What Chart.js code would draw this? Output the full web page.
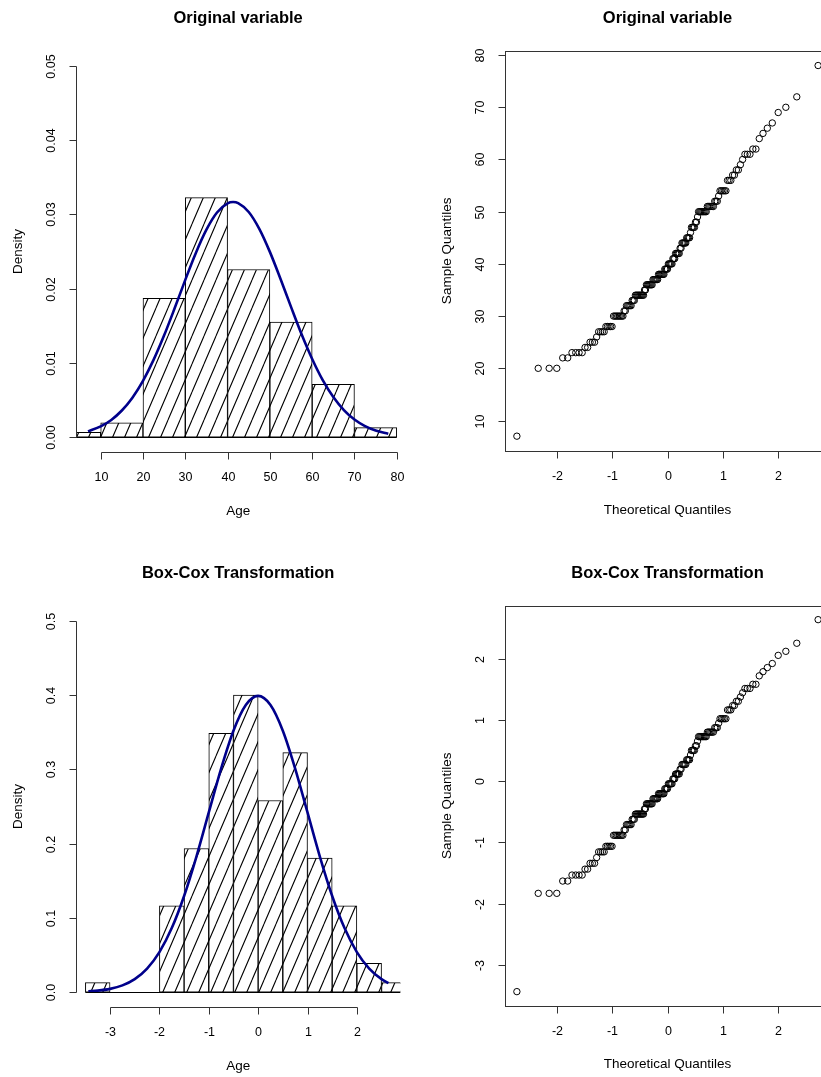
<!DOCTYPE html>
<html>
<head>
<meta charset="utf-8">
<script src="https://cdn.jsdelivr.net/npm/chart.js@4.4.1/dist/chart.umd.min.js"></script>
<style>
  html, body { margin: 0; padding: 0; width: 821px; height: 1077px; overflow: hidden; background: #fff; }
  canvas { position: absolute; left: 0; top: 0; }
</style>
</head>
<body>
<canvas id="histAge" width="860" height="1077"></canvas>
<canvas id="qqAge" width="860" height="1077"></canvas>
<canvas id="histBoxCox" width="860" height="1077"></canvas>
<canvas id="qqBoxCox" width="860" height="1077"></canvas>
<script>
// ---- data ----
// histogram of Age (bins of 10, density)
const ageBinMids = [5, 15, 25, 35, 45, 55, 65, 75];
const ageDensity = [0.00065, 0.00194, 0.01871, 0.03226, 0.02258, 0.01548, 0.0071, 0.00129];
const ageBreaksRange = [0, 80];
// fitted normal curve over Age
const ageCurveX = [7, 10, 12.5, 15, 17.5, 20, 22.5, 25, 27.5, 30, 32.5, 35, 37.5, 40, 41.3, 42.5, 45, 47.5, 50, 52.5, 55, 57.5, 60, 62.5, 65, 67.5, 70, 72.5, 75, 78];
const ageCurveY = [0.00078, 0.00145, 0.00232, 0.00359, 0.00532, 0.00759, 0.0104, 0.01371, 0.01738, 0.02118, 0.02481, 0.02794, 0.03025, 0.03149, 0.03166, 0.03152, 0.03032, 0.02805, 0.02495, 0.02133, 0.01754, 0.01385, 0.01053, 0.00768, 0.0054, 0.00365, 0.00237, 0.00148, 0.00089, 0.00046];

// histogram of the Box-Cox transformed variable (bins of 0.5)
const bcBinMids = [-3.25, -2.75, -2.25, -1.75, -1.25, -0.75, -0.25, 0.25, 0.75, 1.25, 1.75, 2.25, 2.75];
const bcDensity = [0.0129, 0, 0, 0.1161, 0.1935, 0.3484, 0.4, 0.2581, 0.3226, 0.1806, 0.1161, 0.0387, 0.0129];
const bcBreaksRange = [-3.5, 3.0];
const bcCurveX = [-3.44, -3.25, -3, -2.75, -2.5, -2.25, -2, -1.75, -1.5, -1.25, -1, -0.75, -0.5, -0.25, 0, 0.25, 0.5, 0.75, 1, 1.25, 1.5, 1.75, 2, 2.25, 2.5, 2.64];
const bcCurveY = [0.00107, 0.00203, 0.00443, 0.00909, 0.01753, 0.03174, 0.05399, 0.08628, 0.12952, 0.18265, 0.24197, 0.30114, 0.35207, 0.38667, 0.39894, 0.38667, 0.35207, 0.30114, 0.24197, 0.18265, 0.12952, 0.08628, 0.05399, 0.03174, 0.01753, 0.01223];

// sample: distinct ages, how often each occurs, and its Box-Cox value
const ageValues = [7, 20, 22, 23, 24, 25, 26, 27, 28, 30, 31, 32, 33, 34, 35, 36, 37, 38, 39, 40, 41, 42, 43, 44, 45, 46, 47, 48, 49, 50, 51, 52, 53, 54, 56, 57, 58, 59, 60, 61, 62, 64, 65, 66, 67, 69, 70, 72, 78];
const ageCounts = [1, 3, 2, 4, 2, 3, 1, 4, 5, 8, 2, 5, 3, 9, 2, 7, 6, 7, 4, 5, 3, 5, 2, 5, 4, 1, 4, 2, 1, 8, 6, 3, 1, 5, 3, 2, 2, 1, 1, 3, 2, 1, 1, 1, 1, 1, 1, 1, 1];
const boxcoxValues = [-3.44, -1.833, -1.632, -1.534, -1.437, -1.342, -1.248, -1.155, -1.064, -0.884, -0.796, -0.709, -0.623, -0.537, -0.452, -0.369, -0.286, -0.204, -0.123, -0.042, 0.038, 0.118, 0.196, 0.274, 0.351, 0.428, 0.504, 0.58, 0.655, 0.729, 0.803, 0.876, 0.949, 1.022, 1.166, 1.237, 1.307, 1.378, 1.447, 1.517, 1.585, 1.723, 1.791, 1.858, 1.925, 2.058, 2.124, 2.256, 2.642];

// theoretical quantiles of the 155 ranked points
const theoQuantiles = [
  -2.725, -2.339, -2.141, -2.003, -1.896, -1.806, -1.728, -1.660, -1.600, -1.544,
  -1.492, -1.445, -1.401, -1.359, -1.319, -1.282, -1.246, -1.211, -1.178, -1.146,
  -1.115, -1.086, -1.057, -1.030, -1.003, -0.976, -0.950, -0.925, -0.901, -0.877,
  -0.854, -0.830, -0.807, -0.785, -0.763, -0.742, -0.721, -0.700, -0.680, -0.659,
  -0.639, -0.619, -0.600, -0.581, -0.562, -0.543, -0.524, -0.506, -0.488, -0.470,
  -0.452, -0.434, -0.416, -0.399, -0.381, -0.364, -0.347, -0.330, -0.313, -0.296,
  -0.279, -0.262, -0.245, -0.228, -0.212, -0.195, -0.179, -0.162, -0.146, -0.130,
  -0.113, -0.097, -0.081, -0.065, -0.049, -0.032, -0.016, 0,
  0.016, 0.032, 0.049, 0.065, 0.081, 0.097, 0.113, 0.130, 0.146, 0.162,
  0.179, 0.195, 0.212, 0.228, 0.245, 0.262, 0.279, 0.296, 0.313, 0.330,
  0.347, 0.364, 0.381, 0.399, 0.416, 0.434, 0.452, 0.470, 0.488, 0.506,
  0.524, 0.543, 0.562, 0.581, 0.600, 0.619, 0.639, 0.659, 0.680, 0.700,
  0.721, 0.742, 0.763, 0.785, 0.807, 0.830, 0.854, 0.877, 0.901, 0.925,
  0.950, 0.976, 1.003, 1.030, 1.057, 1.086, 1.115, 1.146, 1.178, 1.211,
  1.246, 1.282, 1.319, 1.359, 1.401, 1.445, 1.492, 1.544, 1.600, 1.660,
  1.728, 1.806, 1.896, 2.003, 2.141, 2.339, 2.725
];

// tick labels
const ageTicks = [10, 20, 30, 40, 50, 60, 70, 80];
const ageDensityTicks = [0, 0.01, 0.02, 0.03, 0.04, 0.05];
const bcTicks = [-3, -2, -1, 0, 1, 2];
const bcDensityTicks = [0, 0.1, 0.2, 0.3, 0.4, 0.5];
const qqXTicks = [-2, -1, 0, 1, 2];
const qqAgeYTicks = [10, 20, 30, 40, 50, 60, 70, 80];
const qqBcYTicks = [-3, -2, -1, 0, 1, 2];

// ---- drawing ----
const FONT = '"Liberation Sans", Arial, Helvetica, sans-serif';
const AXIS_COLOR = '#333';
const CURVE_COLOR = '#00008B';
const W = 860, H = 1077;

function hatchPattern() {
  const tile = document.createElement('canvas');
  tile.width = 12;
  tile.height = 28;
  const t = tile.getContext('2d');
  t.fillStyle = '#fff';
  t.fillRect(0, 0, 12, 28);
  t.strokeStyle = '#000';
  t.lineWidth = 1.1;
  t.beginPath();
  for (const x0 of [-12, 0, 12]) {
    t.moveTo(x0, 28);
    t.lineTo(x0 + 12, 0);
  }
  t.stroke();
  return t.createPattern(tile, 'repeat');
}
const hatch = hatchPattern();

// R style axes, titles and box
function rAxes(cfg) {
  return {
    id: 'rAxes',
    afterDraw(chart) {
      const ctx = chart.ctx;
      const area = chart.chartArea;
      const xs = chart.scales.x, ys = chart.scales.y;
      ctx.save();
      ctx.strokeStyle = AXIS_COLOR;
      ctx.fillStyle = '#000';
      ctx.lineWidth = 1;

      if (cfg.baseline) {
        const y0 = Math.round(ys.getPixelForValue(0)) + 0.5;
        const a = Math.max(area.left, xs.getPixelForValue(cfg.baseline[0]));
        const b = Math.min(area.right, xs.getPixelForValue(cfg.baseline[1]));
        ctx.strokeStyle = '#000';
        ctx.beginPath();
        ctx.moveTo(a, y0);
        ctx.lineTo(b, y0);
        ctx.stroke();
        ctx.strokeStyle = AXIS_COLOR;
      }

      if (cfg.box) {
        ctx.strokeRect(Math.round(area.left) + 0.5, Math.round(area.top) + 0.5,
          Math.round(area.right - area.left), Math.round(area.bottom - area.top));
      }

      // x axis
      const yb = Math.round(area.bottom) + 0.5;
      const xp = cfg.xTicks.map(v => Math.round(xs.getPixelForValue(v)) + 0.5);
      ctx.beginPath();
      ctx.moveTo(xp[0], yb);
      ctx.lineTo(xp[xp.length - 1], yb);
      xp.forEach(p => { ctx.moveTo(p, yb); ctx.lineTo(p, yb + 7); });
      ctx.stroke();
      ctx.font = '12.5px ' + FONT;
      ctx.textAlign = 'center';
      ctx.textBaseline = 'middle';
      cfg.xTicks.forEach((v, i) => ctx.fillText(cfg.xFmt(v), xp[i], area.bottom + 25.5));

      // y axis
      const xl = Math.round(area.left) + 0.5;
      const yp = cfg.yTicks.map(v => Math.round(ys.getPixelForValue(v)) + 0.5);
      ctx.beginPath();
      ctx.moveTo(xl, yp[0]);
      ctx.lineTo(xl, yp[yp.length - 1]);
      yp.forEach(p => { ctx.moveTo(xl, p); ctx.lineTo(xl - 7, p); });
      ctx.stroke();
      cfg.yTicks.forEach((v, i) => {
        ctx.save();
        ctx.translate(area.left - 24, yp[i]);
        ctx.rotate(-Math.PI / 2);
        ctx.fillText(cfg.yFmt(v), 0, 0);
        ctx.restore();
      });

      // titles
      const cx = (area.left + area.right) / 2;
      ctx.font = 'bold 16.5px ' + FONT;
      ctx.textBaseline = 'alphabetic';
      ctx.fillText(cfg.title, cx, area.top - 28);
      ctx.font = '13.5px ' + FONT;
      ctx.textBaseline = 'middle';
      ctx.fillText(cfg.xTitle, cx, area.bottom + 59);
      ctx.save();
      ctx.translate(area.left - 58, (area.top + area.bottom) / 2);
      ctx.rotate(-Math.PI / 2);
      ctx.fillText(cfg.yTitle, 0, 0);
      ctx.restore();

      ctx.restore();
    }
  };
}

function baseOptions(box, xRange, yRange, xTicks) {
  return {
    responsive: false,
    animation: false,
    devicePixelRatio: 1,
    events: [],
    layout: { padding: { left: box[0], top: box[1], right: W - box[2], bottom: H - box[3] } },
    plugins: { legend: { display: false }, tooltip: { enabled: false }, title: { display: false } },
    scales: {
      x: {
        type: 'linear', display: false, offset: false, min: xRange[0], max: xRange[1],
        afterBuildTicks: axis => { axis.ticks = xTicks.map(v => ({ value: v })); }
      },
      y: { type: 'linear', display: false, min: yRange[0], max: yRange[1] }
    }
  };
}

function histChart(id, box, xRange, yRange, mids, dens, curveX, curveY, breaks, xTicks, yTicks, yDigits, title) {
  new Chart(document.getElementById(id), {
    type: 'bar',
    data: {
      datasets: [
        {
          type: 'line',
          data: curveX.map((x, i) => ({ x: x, y: curveY[i] })),
          borderColor: CURVE_COLOR,
          borderWidth: 2.6,
          pointRadius: 0,
          cubicInterpolationMode: 'monotone',
          order: 0,
          clip: 0
        },
        {
          type: 'bar',
          data: mids.map((x, i) => ({ x: x, y: dens[i] })),
          backgroundColor: hatch,
          borderColor: '#000',
          borderWidth: 1,
          borderSkipped: false,
          barPercentage: 1,
          categoryPercentage: 1,
          order: 1,
          clip: 0
        }
      ]
    },
    options: baseOptions(box, xRange, yRange, xTicks),
    plugins: [rAxes({
      title: title, xTitle: 'Age', yTitle: 'Density',
      xTicks: xTicks, yTicks: yTicks,
      xFmt: v => String(v), yFmt: v => v.toFixed(yDigits),
      baseline: breaks, box: false
    })]
  });
}

function qqChart(id, box, yRange, sampleY, yTicks, title) {
  new Chart(document.getElementById(id), {
    type: 'scatter',
    data: {
      datasets: [{
        data: theoQuantiles.map((q, i) => ({ x: q, y: sampleY[i] })),
        pointStyle: 'circle',
        pointRadius: 3.2,
        borderWidth: 1,
        borderColor: '#000',
        backgroundColor: 'rgba(0,0,0,0)',
        clip: 0
      }]
    },
    options: baseOptions(box, [-2.94, 2.94], yRange, qqXTicks),
    plugins: [rAxes({
      title: title, xTitle: 'Theoretical Quantiles', yTitle: 'Sample Quantiles',
      xTicks: qqXTicks, yTicks: yTicks,
      xFmt: v => String(v), yFmt: v => String(v),
      box: true
    })]
  });
}

const sampleAges = ageValues.flatMap((v, i) => Array(ageCounts[i]).fill(v));
const sampleBoxCox = boxcoxValues.flatMap((v, i) => Array(ageCounts[i]).fill(v));

histChart('histAge', [76, 51, 400.3, 452], [4.16, 80.84], [-0.002, 0.052],
  ageBinMids, ageDensity, ageCurveX, ageCurveY, ageBreaksRange,
  ageTicks, ageDensityTicks, 2, 'Original variable');

qqChart('qqAge', [505, 50.7, 830, 451], [4.16, 80.84], sampleAges, qqAgeYTicks, 'Original variable');

histChart('histBoxCox', [76, 606, 400.3, 1007], [-3.69, 2.88], [-0.02, 0.52],
  bcBinMids, bcDensity, bcCurveX, bcCurveY, bcBreaksRange,
  bcTicks, bcDensityTicks, 1, 'Box-Cox Transformation');

qqChart('qqBoxCox', [505, 605.7, 830, 1005.7], [-3.67, 2.87], sampleBoxCox, qqBcYTicks, 'Box-Cox Transformation');
</script>
</body>
</html>
